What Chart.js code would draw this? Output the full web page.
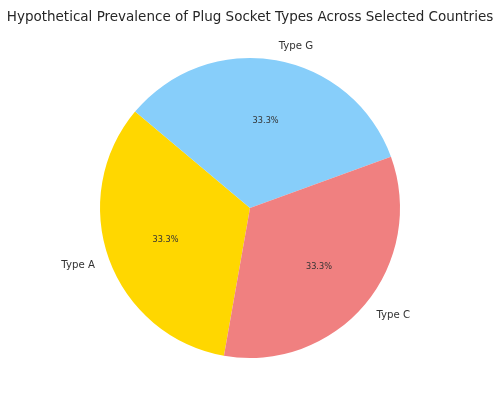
<!DOCTYPE html>
<html>
<head>
<meta charset="utf-8">
<script src="https://cdn.jsdelivr.net/npm/chart.js@4"></script>
<style>
  html, body { margin: 0; padding: 0; background: #fff; }
  #wrap { width: 500px; height: 402px; }
</style>
</head>
<body>
<div id="wrap"><canvas id="pieChart"></canvas></div>
<script>
// clockwise order as drawn (matplotlib went counter-clockwise from 140deg)
const labels = ['Type A', 'Type G', 'Type C'];
const values = [1, 1, 1];
const colors = ['#FFD700', '#87CEFA', '#F08080'];

const outsideLabels = {
  id: 'outsideLabels',
  afterDatasetsDraw(chart) {
    const ctx = chart.ctx;
    const meta = chart.getDatasetMeta(0);
    const total = values.reduce((a, b) => a + b, 0);
    ctx.save();
    meta.data.forEach((arc, i) => {
      const mid = (arc.startAngle + arc.endAngle) / 2;
      const r = arc.outerRadius;
      const c = Math.cos(mid), s = Math.sin(mid);
      // category label outside
      ctx.font = '10.2px "DejaVu Sans"';
      ctx.fillStyle = '#333';
      ctx.textBaseline = 'middle';
      ctx.textAlign = c > 0 ? 'left' : 'right';
      ctx.fillText(labels[i], arc.x + c * r * 1.1, arc.y + s * r * 1.1 + 1);
      // percentage inside
      ctx.font = '8.2px "DejaVu Sans"';
      ctx.textAlign = 'center';
      const pct = (values[i] / total * 100).toFixed(1) + '%';
      ctx.fillText(pct, arc.x + c * r * 0.6, arc.y + s * r * 0.6 + 1);
    });
    ctx.restore();
  }
};

new Chart(document.getElementById('pieChart'), {
  type: 'pie',
  data: {
    labels: labels,
    datasets: [{
      data: values,
      backgroundColor: colors,
      borderWidth: 0
    }]
  },
  options: {
    responsive: true,
    maintainAspectRatio: false,
    animation: false,
    rotation: 190,
    layout: { padding: { top: 0, bottom: 44, left: 0, right: 0 } },
    plugins: {
      legend: { display: false },
      tooltip: { enabled: false },
      title: {
        display: true,
        text: 'Hypothetical Prevalence of Plug Socket Types Across Selected Countries',
        color: '#262626',
        font: { family: "'DejaVu Sans', sans-serif", size: 13.5, weight: 'normal' },
        padding: { top: 9, bottom: 32.8 }
      }
    }
  },
  plugins: [outsideLabels]
});
</script>
</body>
</html>
